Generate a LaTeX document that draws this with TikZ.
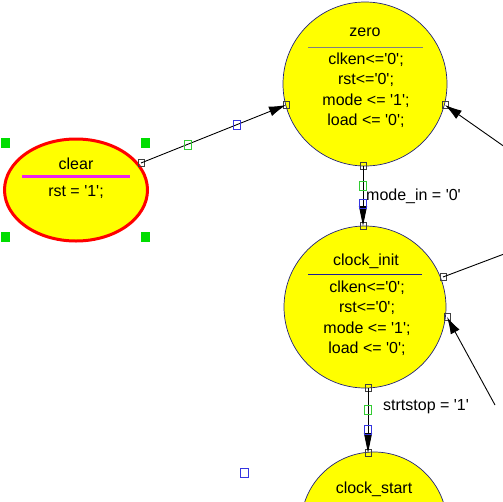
\documentclass[tikz,border=0pt]{standalone}
\usepackage{fontspec}
\newfontfamily\dgfont{Liberation Sans}
\usetikzlibrary{shapes.geometric,arrows.meta,positioning}
\definecolor{stateyel}{HTML}{FFFF00}
\definecolor{edgeblue}{HTML}{22227A}
\definecolor{handgreen}{HTML}{00DD00}
\definecolor{ptgreen}{HTML}{33CC33}
\definecolor{ptblue}{HTML}{3535E0}
\definecolor{rulemag}{HTML}{EE22EE}

\begin{document}
\begin{tikzpicture}[x=1pt, y=-1pt,
  state/.style={circle, draw=edgeblue, line width=0.7pt, fill=stateyel, minimum size=#1, inner sep=0pt},
  txt/.style={font=\dgfont\fontsize{16}{20.5}\selectfont, align=center, inner sep=0pt},
  port/.style={rectangle, draw=black!75, line width=0.7pt, minimum width=6pt, minimum height=7pt, inner sep=0pt},
  gpt/.style={rectangle, draw=ptgreen, line width=0.9pt, minimum width=7pt, minimum height=9pt, inner sep=0pt},
  bpt/.style={rectangle, draw=ptblue, line width=0.9pt, minimum width=7pt, minimum height=9pt, inner sep=0pt},
  grip/.style={rectangle, fill=handgreen, minimum width=9pt, minimum height=10pt, inner sep=0pt},
  arr/.style={-{Latex[length=17pt,width=10pt]}, line width=0.9pt, black},
  vflow/.style={-{Triangle[length=20pt,width=8pt]}, line width=0.9pt, black}
]
  \useasboundingbox (0,0) rectangle (503,501);
  \clip (0,0) rectangle (503,501);

  % states
  \node[state=164pt] (zero) at (365,84) {};
  \node[state=162pt] (cinit) at (365,307) {};
  \node[state=146pt] (cstart) at (374,525) {};
  \node[ellipse, draw=red, line width=3pt, fill=stateyel, minimum width=143pt, minimum height=102pt, inner sep=0pt] (clear) at (76,190) {};

  % texts
  \node[txt, anchor=base] (zeroname) at (365,36.5) {zero};
  \draw[gray, line width=1pt] (308,47) -- (423,47);
  \node[txt] (zerobody) at (366,90) {clken<='0';\\rst<='0';\\mode <= '1';\\load <= '0';};

  \node[txt, anchor=base] (ciname) at (366,265) {clock\_init};
  \draw[edgeblue!80!blue, line width=1pt] (308,274) -- (422,274);
  \node[txt] (cibody) at (367,318) {clken<='0';\\rst<='0';\\mode <= '1';\\load <= '0';};

  \node[txt, anchor=base] (csname) at (374,493) {clock\_start};

  \node[txt, anchor=base] (clname) at (76,169) {clear};
  \draw[rulemag, line width=3pt] (22,176) -- (130,176);
  \node[txt, anchor=base] (clbody) at (76,196) {rst = '1';};

  % selection grips
  \node[grip] (g1) at (5,142.5) {};
  \node[grip] (g2) at (145,142.5) {};
  \node[grip] (g3) at (5,236.5) {};
  \node[grip] (g4) at (145,236.5) {};

  % ports
  \node[port] (pcl) at (141,163) {};
  \node[port] (pzl) at (286,105) {};
  \node[port] (pzr) at (445,105) {};
  \node[port] (pzb) at (363,166) {};
  \node[port] (pct) at (363,226) {};
  \node[port] (pcu) at (443,277) {};
  \node[port] (pcd) at (447,317) {};
  \node[port] (pcb) at (368,388) {};
  \node[port] (pst) at (368,453) {};

  \coordinate (in1) at (512,152);
  \coordinate (out1) at (512,251);
  \coordinate (tail) at (495,405);

  % transitions
  \draw[arr] (pcl.center) -- (pzl.center);
  \node[gpt] (e1g) at (188,145) {};
  \node[bpt] (e1b) at (237,125) {};

  \draw[vflow] (pzb.center) -- (pct.center);
  \node[gpt] (e2g) at (363,186) {};
  \node[bpt] (e2b) at (363,204) {};
  \node[txt, anchor=base west] (lbl1) at (366,200) {mode\_in = '0'};

  \draw[vflow] (pcb.center) -- (pst.center);
  \node[gpt] (e3g) at (368,410) {};
  \node[bpt] (e3b) at (368,430) {};
  \node[txt, anchor=base west] (lbl2) at (383,410) {strtstop = '1'};

  \draw[arr] (in1) -- (pzr.center);
  \draw[line width=0.9pt] (pcu.center) -- (out1);
  \draw[arr] (tail) -- (pcd.center);

  \node[bpt, minimum width=8pt, minimum height=9pt] (stray) at (244.5,473) {};
\end{tikzpicture}
\end{document}
